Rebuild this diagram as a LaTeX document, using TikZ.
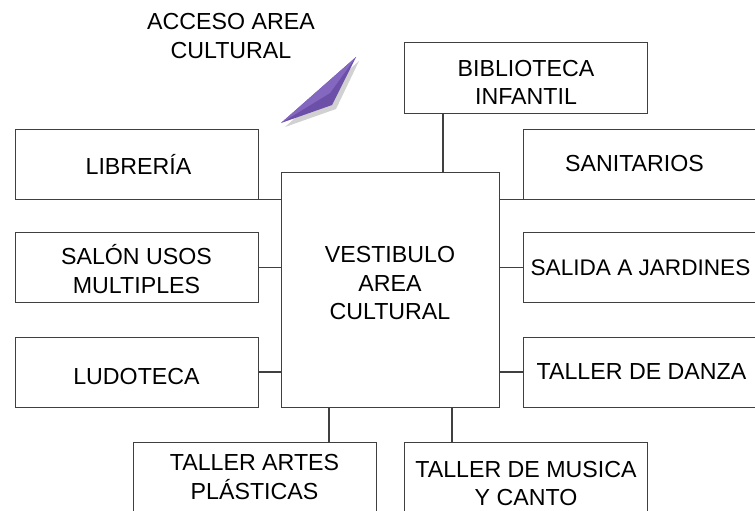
\documentclass[tikz,border=0pt]{standalone}
\usepackage{fontspec}
\setmainfont{Liberation Sans}
\usetikzlibrary{positioning, calc}

\definecolor{linea}{RGB}{64,64,64}
\definecolor{flecha}{RGB}{108,80,168}
\definecolor{flechaclara}{RGB}{132,104,192}

\begin{document}
\begin{tikzpicture}[
  x=1pt, y=-1pt,
  every node/.style={font=\fontsize{23.2}{28.3}\selectfont},
  sala/.style={draw=linea, line width=1pt, fill=white, inner sep=0pt,
               minimum width=243pt, minimum height=70pt, align=center},
  vest/.style={sala, minimum width=218pt, minimum height=235pt},
  con/.style={draw=linea, line width=1.2pt}
]
\useasboundingbox (0,0) rectangle (755,511);
\clip (0,0) rectangle (755,511);

%--- Acceso ---
\node[align=center] (acceso) at (231,36) {ACCESO AREA\\CULTURAL};
\fill[black, opacity=0.18] (359,61) -- (285,127) -- (336,109) -- cycle;
\fill[flecha] (356,57) -- (281,123) -- (332,105) -- cycle;
\fill[flechaclara] (356,57) -- (281,123) -- (330,93) -- cycle;

%--- Centro ---
\node[vest] (centro) at (390,289.5) {VESTIBULO\\AREA\\CULTURAL\rule[-13pt]{0pt}{13pt}};

%--- Columna izquierda ---
\node[sala] (libreria) at (136.5,164) {\hspace*{4pt}LIBRERÍA};
\node[sala] (salon) at (136.5,267.5) {\rule{0pt}{23pt}SALÓN USOS\\MULTIPLES};
\node[sala] (ludoteca) at (136.5,372) {\rule{0pt}{24.6pt}LUDOTECA};

%--- Columna derecha ---
\node[sala] (sanitarios) at (644.5,164) {SANITARIOS\hspace*{20pt}};
\node[sala, font=\fontsize{22.6}{28.3}\selectfont] (salida) at (644.5,267.5)
  {\hspace*{-8pt}SALIDA A JARDINES};
\node[sala] (danza) at (644.5,372) {TALLER DE DANZA\hspace*{6pt}};

%--- Arriba y abajo ---
\node[sala] (biblio) at (526,78) {\rule{0pt}{24.6pt}BIBLIOTECA\\INFANTIL};
\node[sala] (artes) at (254.5,477) {TALLER ARTES\\PLÁSTICAS};
\node[sala] (musica) at (526,477) {\rule{0pt}{28.6pt}TALLER DE MUSICA\\Y CANTO};

%--- Conexiones ---
\draw[con] (libreria.south east) -- (libreria.south east -| centro.west);
\draw[con] (salon.east) -- (salon.east -| centro.west);
\draw[con] (ludoteca.east) -- (ludoteca.east -| centro.west);
\draw[con] (sanitarios.south west) -- (sanitarios.south west -| centro.east);
\draw[con] (salida.west) -- (salida.west -| centro.east);
\draw[con] (danza.west) -- (danza.west -| centro.east);

\coordinate (cb) at ([xshift=53pt]centro.north);
\draw[con] (cb) -- (cb |- biblio.south);
\coordinate (ca) at ([xshift=-61pt]centro.south);
\draw[con] (ca) -- (ca |- artes.north);
\coordinate (cm) at ([xshift=62pt]centro.south);
\draw[con] (cm) -- (cm |- musica.north);

\end{tikzpicture}
\end{document}
